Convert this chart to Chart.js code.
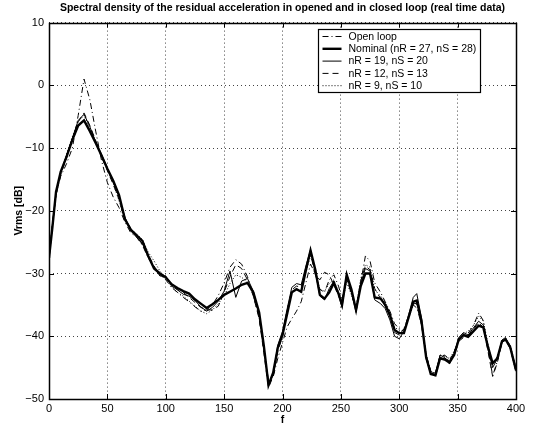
<!DOCTYPE html>
<html>
<head>
<meta charset="utf-8">
<script src="https://cdn.jsdelivr.net/npm/chart.js@4/dist/chart.umd.min.js"></script>
<style>
  html, body { margin: 0; padding: 0; background: #fff; }
  #wrap { width: 536px; height: 427px; }
</style>
</head>
<body>
<div id="wrap"><canvas id="psd" width="536" height="427"></canvas></div>
<script>
// frequency points shared by every curve
var freq = [
  0, 3, 6, 10, 15, 20, 25, 30, 35, 40,
  45, 50, 55, 60, 65, 70, 75, 80, 85, 90,
  95, 100, 105, 110, 115, 120, 125, 130, 135, 140,
  145, 150, 155, 160, 165, 170, 175, 180, 184, 188,
  192, 196, 200, 204, 208, 212, 216, 220, 224, 228,
  232, 236, 240, 244, 248, 251, 255, 259, 263, 267,
  271, 275, 279, 284, 288, 292, 296, 300, 304, 308,
  312, 315, 319, 323, 327, 331, 335, 339, 343, 347,
  351, 355, 359, 363, 368, 372, 376, 380, 384, 388,
  391, 395, 400
];

var openLoop = [
  -27.5, -22.0, -17.5, -14.5, -12.5, -10.0, -4.8, 1.0, -2.3, -7.3,
  -12.0, -15.5, -17.8, -19.5, -21.8, -23.5, -24.2, -25.5, -27.5, -29.0,
  -30.2, -31.0, -32.2, -33.0, -33.8, -34.5, -35.3, -36.0, -35.8, -35.0,
  -33.5, -31.5, -29.0, -27.8, -28.5, -30.5, -33.5, -37.0, -42.0, -47.0,
  -46.5, -43.5, -41.0, -38.5, -37.2, -36.0, -34.5, -31.5, -28.5, -30.0,
  -32.5, -33.0, -31.0, -30.2, -32.0, -34.0, -31.0, -33.0, -36.0, -31.5,
  -27.2, -28.0, -31.5, -33.0, -34.5, -36.0, -38.0, -38.8, -39.0, -37.0,
  -35.0, -35.5, -38.0, -43.0, -45.5, -46.0, -43.0, -43.2, -44.0, -42.5,
  -40.5, -40.0, -39.5, -38.5, -36.3, -37.5, -42.0, -46.3, -44.0, -41.0,
  -40.6, -42.0, -45.6
];

var nominal = [
  -27.5, -22.5, -17.0, -13.8, -11.4, -8.7, -6.4, -5.6, -7.3, -9.2,
  -11.2, -13.3, -15.2, -17.5, -21.3, -23.0, -23.9, -24.8, -27.2, -29.2,
  -30.0, -30.6, -31.7, -32.3, -32.8, -33.2, -34.1, -34.8, -35.5, -34.9,
  -34.2, -33.4, -32.9, -32.4, -31.8, -31.5, -33.0, -36.2, -41.5, -47.8,
  -45.8, -41.8, -39.8, -36.4, -33.0, -32.5, -32.9, -29.5, -26.3, -29.3,
  -33.4, -34.0, -33.0, -31.5, -33.2, -35.0, -30.2, -32.5, -35.8, -32.0,
  -30.0, -30.0, -33.8, -34.0, -35.0, -36.6, -39.0, -39.5, -39.5, -37.0,
  -34.5, -34.3, -37.5, -43.3, -46.0, -46.2, -43.5, -43.7, -44.2, -43.0,
  -40.5, -39.8, -40.1, -39.3, -38.3, -38.6, -41.7, -44.3, -43.5, -40.8,
  -40.5, -41.7, -45.4
];

var nr19 = [
  -27.8, -22.0, -17.2, -14.0, -11.2, -8.4, -5.6, -4.6, -6.6, -9.0,
  -11.0, -13.2, -15.4, -17.8, -21.0, -23.2, -24.2, -25.2, -27.4, -29.0,
  -30.4, -30.4, -32.0, -32.6, -33.3, -33.6, -34.3, -35.3, -36.0, -35.4,
  -34.4, -32.8, -29.6, -33.8, -31.2, -30.8, -32.8, -36.4, -41.8, -47.6,
  -46.2, -41.4, -39.2, -35.6, -32.2, -31.6, -31.8, -28.8, -26.2, -29.6,
  -33.6, -34.2, -32.4, -31.2, -33.4, -35.4, -30.0, -33.0, -36.2, -31.6,
  -29.2, -29.6, -34.2, -34.8, -35.6, -37.4, -40.0, -40.4, -39.2, -36.6,
  -33.8, -33.2, -37.0, -43.6, -46.0, -45.8, -43.0, -43.4, -44.4, -42.8,
  -40.2, -39.4, -39.8, -38.8, -37.6, -38.2, -42.0, -45.0, -43.6, -40.6,
  -40.2, -41.6, -45.2
];

var nr12 = [
  -27.6, -22.3, -17.4, -14.2, -11.6, -8.6, -5.8, -4.4, -6.4, -8.8,
  -11.4, -13.6, -15.8, -18.2, -21.2, -22.8, -24.0, -25.4, -27.0, -28.8,
  -30.2, -30.8, -31.6, -32.6, -33.0, -33.8, -34.6, -35.4, -35.8, -35.8,
  -35.2, -33.0, -30.5, -28.6, -29.2, -31.0, -33.6, -37.2, -42.6, -48.2,
  -46.4, -42.4, -40.0, -36.0, -32.6, -32.0, -32.2, -29.2, -26.8, -30.2,
  -31.0, -29.8, -30.2, -31.8, -33.6, -34.6, -30.8, -33.2, -35.6, -31.2,
  -28.8, -29.4, -32.4, -34.0, -35.2, -36.8, -39.4, -39.8, -38.8, -36.8,
  -34.8, -34.8, -38.2, -43.0, -45.6, -46.0, -43.2, -43.0, -43.8, -42.6,
  -40.8, -40.2, -39.8, -39.0, -37.8, -38.6, -42.4, -46.4, -44.2, -41.0,
  -40.6, -41.8, -45.6
];

var nr9 = [
  -27.4, -22.4, -17.6, -14.0, -11.0, -8.2, -5.8, -4.8, -6.8, -9.0,
  -11.4, -13.4, -15.6, -18.4, -21.6, -23.0, -23.6, -24.6, -26.6, -28.0,
  -29.6, -30.6, -32.2, -33.0, -33.6, -34.4, -35.2, -36.0, -36.4, -35.8,
  -34.8, -33.6, -31.6, -30.2, -30.6, -31.4, -33.4, -36.8, -42.0, -47.6,
  -46.0, -41.6, -39.6, -35.8, -32.8, -32.6, -33.0, -29.8, -27.2, -29.2,
  -32.6, -32.8, -31.6, -31.0, -33.0, -34.8, -31.4, -33.4, -35.4, -30.8,
  -28.6, -29.0, -32.6, -33.6, -34.6, -36.2, -38.6, -39.0, -39.2, -37.2,
  -35.0, -34.6, -37.8, -42.8, -45.8, -46.4, -43.6, -43.0, -43.6, -42.4,
  -40.6, -39.6, -39.2, -38.4, -36.8, -37.6, -41.2, -44.6, -43.2, -40.8,
  -40.4, -41.4, -45.0
];

var xTicks = [0, 50, 100, 150, 200, 250, 300, 350, 400];
var yTicks = [-50, -40, -30, -20, -10, 0, 10];

var FONT = '"Liberation Sans", Arial, Helvetica, sans-serif';

function pts(ys) {
  return freq.map(function (f, i) { return { x: f, y: ys[i] }; });
}

function curve(label, ys, width, dash) {
  return {
    label: label,
    data: pts(ys),
    borderColor: '#000',
    borderWidth: width,
    borderDash: dash,
    pointRadius: 0,
    tension: 0,
    fill: false
  };
}

// axes box with inward ticks on all sides, plus the boxed legend
var matlabFrame = {
  id: 'matlabFrame',
  afterDatasetsDraw: function (chart) {
    var ctx = chart.ctx;
    var a = chart.chartArea;
    var sx = chart.scales.x, sy = chart.scales.y;
    var tl = 5;
    ctx.save();
    ctx.strokeStyle = '#000';
    ctx.lineWidth = 1;
    ctx.setLineDash([]);
    ctx.beginPath();
    xTicks.forEach(function (v) {
      var px = Math.round(sx.getPixelForValue(v)) + 0.5;
      ctx.moveTo(px, a.bottom); ctx.lineTo(px, a.bottom - tl);
      ctx.moveTo(px, a.top); ctx.lineTo(px, a.top + tl);
    });
    yTicks.forEach(function (v) {
      var py = Math.round(sy.getPixelForValue(v)) + 0.5;
      ctx.moveTo(a.left, py); ctx.lineTo(a.left + tl, py);
      ctx.moveTo(a.right, py); ctx.lineTo(a.right - tl, py);
    });
    ctx.stroke();
    ctx.lineWidth = 1.5;
    ctx.strokeRect(Math.round(a.left) + 0.5, Math.round(a.top) + 0.5,
      Math.round(a.right - a.left), Math.round(a.bottom - a.top));

    // legend
    var lx = 318.5, ly = 29.5, lw = 162, lh = 63;
    ctx.fillStyle = '#fff';
    ctx.fillRect(lx, ly, lw, lh);
    ctx.lineWidth = 1.2;
    ctx.strokeRect(lx, ly, lw, lh);
    ctx.font = '10.5px ' + FONT;
    ctx.textBaseline = 'middle';
    ctx.textAlign = 'left';
    chart.data.datasets.forEach(function (ds, i) {
      var yy = ly + 7 + i * 12.3;
      ctx.beginPath();
      ctx.lineWidth = ds.borderWidth;
      ctx.setLineDash(ds.borderDash || []);
      ctx.moveTo(lx + 4, yy);
      ctx.lineTo(lx + 23, yy);
      ctx.stroke();
      ctx.setLineDash([]);
      ctx.fillStyle = '#000';
      ctx.fillText(ds.label, lx + 30, yy + 0.5);
    });
    ctx.restore();
  }
};

var ctx = document.getElementById('psd').getContext('2d');

new Chart(ctx, {
  type: 'line',
  data: {
    datasets: [
      curve('Open loop', openLoop, 1, [6, 3, 1, 3]),
      curve('Nominal (nR = 27, nS = 28)', nominal, 2.4, []),
      curve('nR = 19, nS = 20', nr19, 1, []),
      curve('nR = 12, nS = 13', nr12, 1, [6, 4]),
      curve('nR = 9, nS = 10', nr9, 1, [1, 2])
    ]
  },
  options: {
    responsive: false,
    animation: false,
    layout: { padding: { left: 0, right: 20, top: 0, bottom: 0 } },
    plugins: {
      legend: { display: false },
      tooltip: { enabled: false },
      title: {
        display: true,
        fullSize: false,
        text: 'Spectral density of the residual acceleration in opened and in closed loop (real time data)',
        color: '#000',
        font: { family: FONT, size: 10.5, weight: 'bold' },
        padding: { top: 2, bottom: 8 }
      }
    },
    scales: {
      x: {
        type: 'linear',
        min: 0,
        max: 400,
        afterBuildTicks: function (s) { s.ticks = xTicks.map(function (v) { return { value: v }; }); },
        afterFit: function (s) { s.height = 28; },
        ticks: { color: '#000', font: { family: FONT, size: 11 }, padding: 3, maxRotation: 0 },
        grid: { color: '#444', lineWidth: 1, drawTicks: false },
        border: { display: false, dash: [1, 3] },
        title: { display: true, text: 'f', color: '#000', font: { family: FONT, size: 10.5, weight: 'bold' }, padding: { top: 0, bottom: 1 } }
      },
      y: {
        min: -50,
        max: 10,
        afterBuildTicks: function (s) { s.ticks = yTicks.map(function (v) { return { value: v }; }); },
        afterFit: function (s) { s.width = 49; },
        ticks: {
          color: '#000',
          font: { family: FONT, size: 11 },
          padding: 5,
          callback: function (v) { return v < 0 ? '\u2212' + Math.abs(v) : String(v); }
        },
        grid: { color: '#444', lineWidth: 1, drawTicks: false },
        border: { display: false, dash: [1, 3] },
        title: { display: true, text: 'Vrms [dB]', color: '#000', font: { family: FONT, size: 10.5, weight: 'bold' }, padding: { top: 13, bottom: 0 } }
      }
    }
  },
  plugins: [matlabFrame]
});
</script>
</body>
</html>
